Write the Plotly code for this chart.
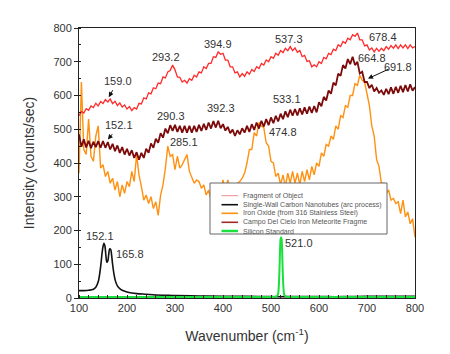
import plotly.graph_objects as go

# ---------------- data ----------------
x_noisy = list(range(100, 805, 5))

fragment_of_object = [
    540, 553, 548, 561, 556, 569, 564, 577, 569, 582,
    576, 588, 581, 590, 576, 583, 570, 578, 566, 572,
    560, 567, 555, 564, 560, 577, 575, 593, 590, 608,
    605, 623, 620, 637, 635, 655, 652, 670, 674, 690,
    676, 655, 654, 640, 645, 637, 650, 645, 660, 655,
    670, 667, 685, 680, 695, 695, 715, 713, 729, 722,
    725, 705, 705, 685, 685, 667, 670, 655, 665, 657,
    670, 663, 677, 671, 685, 680, 695, 690, 705, 700,
    715, 710, 725, 719, 733, 727, 740, 733, 745, 733,
    741, 728, 733, 715, 719, 701, 703, 685, 691, 685,
    700, 695, 713, 709, 725, 721, 737, 733, 750, 745,
    760, 755, 770, 765, 780, 775, 785, 765, 765, 747,
    750, 735, 741, 729, 740, 731, 740, 733, 745, 737,
    748, 740, 750, 739, 750, 741, 750, 739, 750, 741,
    745,
]

campo_del_cielo = [
    485, 448, 470, 446, 466, 444, 463, 447, 465, 445,
    465, 445, 462, 440, 457, 435, 452, 430, 447, 425,
    442, 422, 438, 415, 432, 410, 430, 415, 442, 430,
    458, 445, 472, 460, 488, 475, 502, 488, 512, 495,
    513, 492, 510, 490, 510, 490, 510, 490, 510, 492,
    513, 495, 516, 498, 520, 502, 524, 505, 525, 503,
    515, 496, 507, 488, 499, 480, 497, 485, 503, 490,
    510, 492, 515, 498, 520, 502, 525, 508, 530, 512,
    535, 518, 540, 523, 546, 530, 553, 536, 558, 540,
    560, 541, 562, 544, 565, 546, 567, 548, 569, 550,
    580, 568, 596, 585, 615, 605, 638, 630, 665, 658,
    690, 680, 708, 693, 715, 690, 700, 665, 670, 640,
    640, 622, 632, 612, 622, 608, 615, 602, 620, 604,
    624, 605, 626, 608, 629, 610, 631, 612, 633, 614,
    625,
]

iron_oxide = [
    370, 640, 440, 425, 530, 420, 405, 480, 510, 385,
    395, 360, 375, 340, 355, 320, 345, 300, 335, 310,
    345, 330, 375, 345, 425, 365, 330, 290, 305, 280,
    300, 265, 285, 245, 305, 335, 385, 450, 420, 425,
    380, 420, 385, 395, 410, 425, 375, 360, 340, 350,
    345, 325, 335, 305, 320, 290, 305, 285, 335, 310,
    350, 315, 350, 320, 335, 330, 340, 345, 355, 370,
    400, 440, 440, 490, 480, 520, 510, 505, 460, 450,
    405, 400, 360, 370, 335, 365, 330, 370, 340, 375,
    340, 370, 335, 375, 345, 380, 350, 390, 365, 400,
    390, 430, 420, 455, 450, 480, 470, 510, 500, 540,
    535, 570, 565, 600, 600, 635, 630, 660, 645, 640,
    600, 570, 510, 480, 410, 390, 340, 340, 310, 320,
    290, 295, 280, 285, 250, 290, 240, 255, 220, 235,
    180,
]

x_swcnt = [100, 110, 120, 130, 135, 140, 145, 148, 150, 152, 154, 156, 158,
           160, 162, 164, 166, 168, 170, 173, 176, 180, 185, 190, 200, 210,
           220, 240, 260, 280, 300, 350, 400, 450, 500, 550, 600, 650, 700,
           750, 800]
swcnt = [22, 22, 23, 26, 32, 48, 92, 132, 152, 162, 154, 126, 106,
         110, 130, 146, 144, 126, 100, 70, 50, 36, 28, 23, 18, 15,
         13, 11, 9, 8, 7, 6, 5, 5, 4, 4, 4, 4, 5, 5, 5]

x_silicon = [100, 200, 300, 400, 500, 510, 514, 516, 518, 519, 520, 521,
             522, 523, 524, 526, 528, 532, 540, 600, 700, 800]
silicon = [3, 3, 3, 3, 3, 4, 8, 30, 100, 150, 175, 180,
           175, 150, 100, 30, 8, 4, 3, 3, 3, 3]

peak_labels = [
    ("159.0", 181, 643), ("293.2", 281, 714), ("394.9", 390, 753),
    ("537.3", 537, 768), ("678.4", 733, 773), ("664.8", 710, 710),
    ("691.8", 765, 685), ("152.1", 183, 513), ("290.3", 292, 539),
    ("392.3", 396, 562), ("533.1", 533, 590), ("474.8", 525, 493),
    ("285.1", 319, 463), ("152.1", 144, 184), ("165.8", 206, 130),
    ("521.0", 558, 163),
]
arrows = [  # (tail x, tail y, head x, head y)
    (172, 620, 162, 595),
    (172, 490, 160, 470),
    (748, 680, 702, 650),
]

legend_names = ["Fragment of Object",
                "Single-Wall Carbon Nanotubes (arc process)",
                "Iron Oxide (from 316 Stainless Steel)",
                "Campo Del Cielo Iron Meteorite Fragme",
                "Silicon Standard"]
legend_colors = ["#f08a8a", "#111111", "#ff9010", "#a02828", "#19e03c"]
legend_widths = [1, 1.6, 1.6, 1.6, 2.5]

# ---------------- figure ----------------
fig = go.Figure()
fig.add_trace(go.Scatter(x=x_noisy, y=iron_oxide, mode="lines",
                         line=dict(color="#ff9010", width=1.4), name=legend_names[2]))
fig.add_trace(go.Scatter(x=x_noisy, y=fragment_of_object, mode="lines",
                         line=dict(color="#ff2a2a", width=1.3), name=legend_names[0]))
fig.add_trace(go.Scatter(x=x_noisy, y=campo_del_cielo, mode="lines",
                         line=dict(color="#7d0a0a", width=1.8), name=legend_names[3]))
fig.add_trace(go.Scatter(x=x_swcnt, y=swcnt, mode="lines",
                         line=dict(color="#111111", width=1.6, shape="spline"),
                         name=legend_names[1]))
fig.add_trace(go.Scatter(x=x_silicon, y=silicon, mode="lines",
                         line=dict(color="#19e03c", width=2, shape="spline"),
                         name=legend_names[4]))

for txt, lx, ly in peak_labels:
    fig.add_annotation(x=lx, y=ly, text=txt, showarrow=False,
                       font=dict(size=11, color="#333333",
                                 family="Liberation Sans, Arial, sans-serif"))
for tx, ty, hx, hy in arrows:
    fig.add_annotation(x=hx, y=hy, ax=tx, ay=ty, axref="x", ayref="y",
                       text="", showarrow=True, arrowhead=2, arrowsize=1,
                       arrowwidth=1, arrowcolor="#111111")

# compact hand-drawn legend (paper coordinates)
def px_x(p):
    return (p - 79) / 336.0

def px_y(p):
    return (298 - p) / 270.0

fig.add_shape(type="rect", xref="paper", yref="paper",
              x0=px_x(210), x1=px_x(387), y0=px_y(234), y1=px_y(183),
              fillcolor="white", line=dict(color="#666666", width=1), layer="above")
row_y = [195.7, 204.7, 213.3, 222.3, 231.0]
for name, col, w, ry in zip(legend_names, legend_colors, legend_widths, row_y):
    fig.add_shape(type="line", xref="paper", yref="paper",
                  x0=px_x(221.5), x1=px_x(238), y0=px_y(ry), y1=px_y(ry),
                  line=dict(color=col, width=w), layer="above")
    fig.add_annotation(xref="paper", yref="paper", x=px_x(240.5), y=px_y(ry),
                       xanchor="left", yanchor="middle", text=name, showarrow=False,
                       font=dict(size=7, color="#555555"))

fig.update_layout(
    width=450, height=354,
    margin=dict(l=79, r=35, t=28, b=56),
    paper_bgcolor="white", plot_bgcolor="white",
    font=dict(family="Liberation Sans, Arial, sans-serif", color="#333333"),
    showlegend=False,
)
fig.update_xaxes(range=[100, 800], dtick=100, showgrid=False, zeroline=False,
                 showline=True, linecolor="#222222", linewidth=1, mirror=True,
                 ticks="outside", ticklen=0, tickfont=dict(size=11),
                 minor=dict(dtick=20, ticks="inside", ticklen=3, tickcolor="#222222"),
                 title=dict(text="Wavenumber (cm<sup>-1</sup>)", font=dict(size=14), standoff=17))
fig.update_yaxes(range=[0, 800], dtick=100, showgrid=False, zeroline=False,
                 showline=True, linecolor="#222222", linewidth=1, mirror=True,
                 ticks="outside", ticklen=4, tickcolor="#222222", tickfont=dict(size=11),
                 minor=dict(dtick=50, ticks="inside", ticklen=2, tickcolor="#222222"),
                 title=dict(text="Intensity (counts/sec)", font=dict(size=14), standoff=15))

fig.write_html("out.html")
